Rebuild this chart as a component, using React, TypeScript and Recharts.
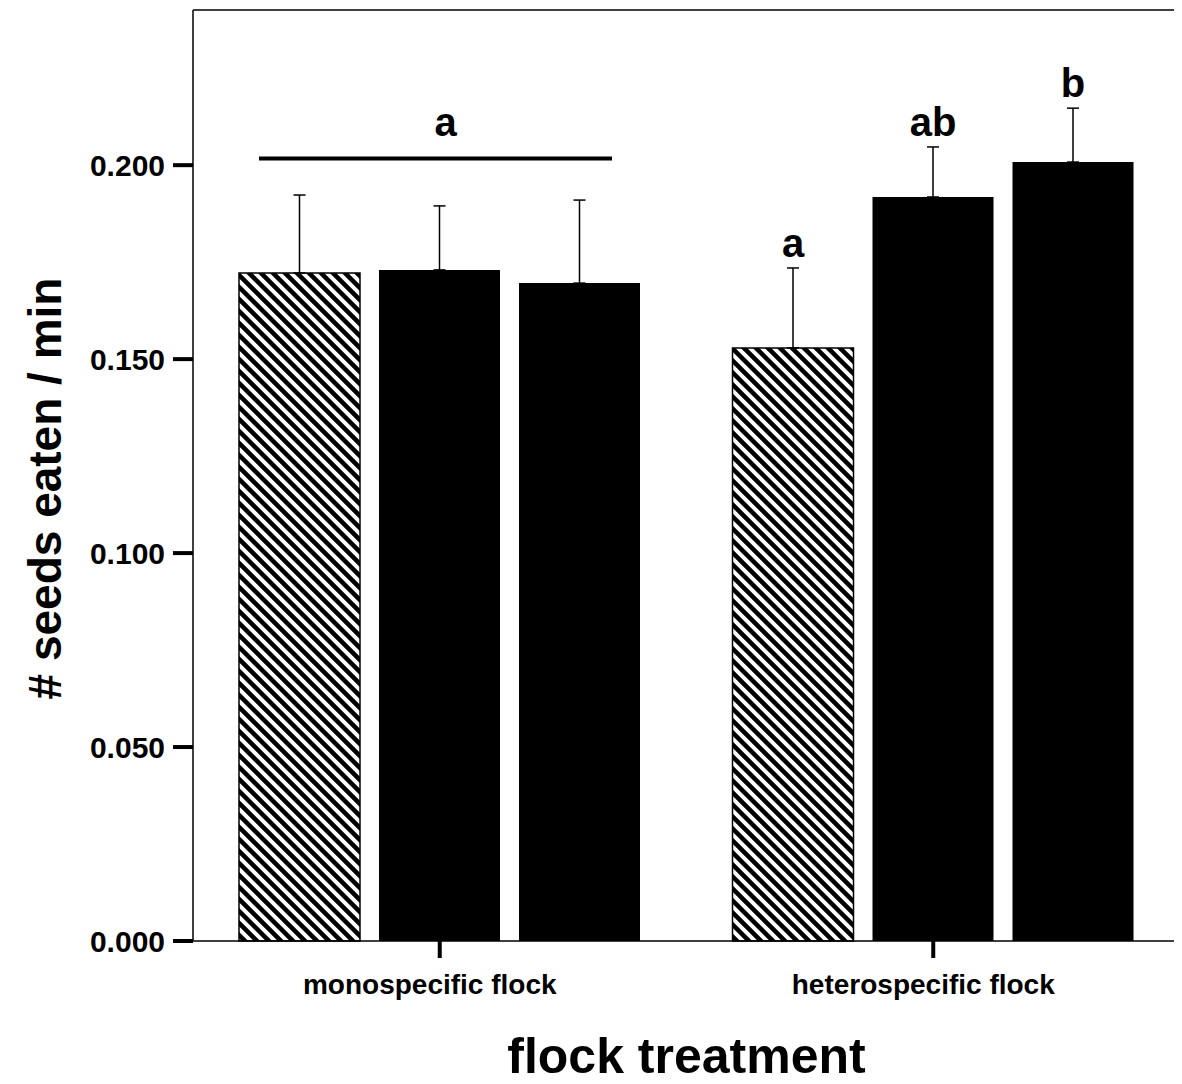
import React from "react";
import {
  BarChart,
  Bar,
  XAxis,
  YAxis,
  ErrorBar,
  LabelList,
  Label,
  ReferenceLine,
} from "recharts";

const categories = ["monospecific flock", "heterospecific flock"];
const hatchedValues = [0.1722, 0.1529];
const darkValues = [0.173, 0.1918];
const solidValues = [0.1696, 0.2008];
const hatchedErrors = [0.0201, 0.0206];
const darkErrors = [0.0165, 0.0129];
const solidErrors = [0.0214, 0.0139];
const yTicks = [0, 0.05, 0.1, 0.15, 0.2];
const yMax = 0.24;
const hatchedLetters = ["", "a"];
const darkLetters = ["", "ab"];
const solidLetters = ["", "b"];
const groupLetters = ["a", ""];
const groupLineValues = [0.2017, 0];

const data = categories.map((name, i) => ({
  name,
  hatched: hatchedValues[i],
  dark: darkValues[i],
  solid: solidValues[i],
  hatchedErr: [0, hatchedErrors[i]],
  darkErr: [0, darkErrors[i]],
  solidErr: [0, solidErrors[i]],
}));

const FONT = "'Liberation Sans', Arial, Helvetica, sans-serif";

const makeLetter =
  (letters: string[], errors: number[], withGroup: boolean) => (props: any) => {
    const { x, y, width, height, value } = props;
    let index = props.index;
    if (index === undefined || index === null) index = 0;
    const v = Number(value);
    if (!v || !height) return null;
    const scale = Number(height) / v;
    const cx = Number(x) + Number(width) / 2;
    const errTop = Number(y) - errors[index] * scale;
    const letter = letters[index];
    const group = withGroup ? groupLetters[index] : "";
    const lineY = Number(y) + Number(height) - groupLineValues[index] * scale;
    return (
      <g>
        {letter ? (
          <text
            x={cx}
            y={errTop - 11}
            textAnchor="middle"
            fontSize={40}
            fontWeight="bold"
            fontFamily={FONT}
            fill="#000"
          >
            {letter}
          </text>
        ) : null}
        {group ? (
          <g>
            <line
              x1={Number(x) - Number(width) + 1}
              x2={Number(x) + 2 * Number(width) - 9}
              y1={lineY}
              y2={lineY}
              stroke="#000"
              strokeWidth={4}
            />
            <text
              x={cx + 6}
              y={lineY - 23}
              textAnchor="middle"
              fontSize={40}
              fontWeight="bold"
              fontFamily={FONT}
              fill="#000"
            >
              {group}
            </text>
          </g>
        ) : null}
      </g>
    );
  };

const YTitle = (props: any) => {
  const vb = props.viewBox || { x: 0, y: 0, width: 185, height: 931 };
  const cx = vb.x + 37;
  const cy = vb.y + vb.height / 2 + 13;
  return (
    <text
      x={cx}
      y={cy}
      transform={`rotate(-90, ${cx}, ${cy})`}
      textAnchor="middle"
      dominantBaseline="central"
      fontSize={46}
      fontWeight="bold"
      fontFamily={FONT}
      fill="#000"
    >
      # seeds eaten / min
    </text>
  );
};

const CategoryTick = (props: any) => {
  const { x, y, payload } = props;
  return (
    <text
      x={Number(x) - 10}
      y={Number(y) + 20}
      textAnchor="middle"
      fontSize={28}
      fontWeight="bold"
      fontFamily={FONT}
      fill="#000"
    >
      {payload.value}
    </text>
  );
};

export default function App() {
  return (
    <div style={{ width: 1174, height: 1076, background: "#fff" }}>
      <BarChart
        width={1174}
        height={1076}
        data={data}
        margin={{ top: 2, right: 2, left: 0, bottom: 0 }}
        barCategoryGap={46}
        barGap={19}
      >
        <defs>
          <pattern id="hatch" patternUnits="userSpaceOnUse" width="12" height="12">
            <rect width="12" height="12" fill="#fff" />
            <path
              d="M-3,-3 L15,15 M-3,9 L3,15 M9,-3 L15,3"
              stroke="#000"
              strokeWidth={4.5}
            />
          </pattern>
        </defs>
        <XAxis
          dataKey="name"
          height={143}
          axisLine={{ stroke: "#000", strokeWidth: 1.5 }}
          tickLine={{ stroke: "#000", strokeWidth: 4 }}
          tickSize={17}
          tickMargin={16}
          tick={<CategoryTick />}
        >
          <Label
            value="flock treatment"
            position="insideBottom"
            offset={11}
            style={{ fontSize: 50, fontWeight: "bold", fontFamily: FONT, fill: "#000" }}
          />
        </XAxis>
        <YAxis
          width={185}
          domain={[0, yMax]}
          ticks={yTicks}
          tickFormatter={(v: number) => v.toFixed(3)}
          axisLine={{ stroke: "#000", strokeWidth: 1.5 }}
          tickLine={{ stroke: "#000", strokeWidth: 4 }}
          tickSize={20}
          tickMargin={8}
          tick={{ fill: "#000", fontSize: 30, fontWeight: "bold", fontFamily: FONT }}
        >
          <Label content={<YTitle />} />
        </YAxis>
        <ReferenceLine y={yMax} stroke="#000" strokeWidth={1.5} ifOverflow="visible" />
        <Bar
          dataKey="hatched"
          fill="url(#hatch)"
          stroke="#000"
          strokeWidth={1.5}
          isAnimationActive={false}
        >
          <ErrorBar dataKey="hatchedErr" width={6} strokeWidth={1.5} stroke="#000" direction="y" />
          <LabelList dataKey="hatched" content={makeLetter(hatchedLetters, hatchedErrors, false)} />
        </Bar>
        <Bar dataKey="dark" fill="#000" isAnimationActive={false}>
          <ErrorBar dataKey="darkErr" width={6} strokeWidth={1.5} stroke="#000" direction="y" />
          <LabelList dataKey="dark" content={makeLetter(darkLetters, darkErrors, true)} />
        </Bar>
        <Bar dataKey="solid" fill="#000" isAnimationActive={false}>
          <ErrorBar dataKey="solidErr" width={6} strokeWidth={1.5} stroke="#000" direction="y" />
          <LabelList dataKey="solid" content={makeLetter(solidLetters, solidErrors, false)} />
        </Bar>
      </BarChart>
    </div>
  );
}
